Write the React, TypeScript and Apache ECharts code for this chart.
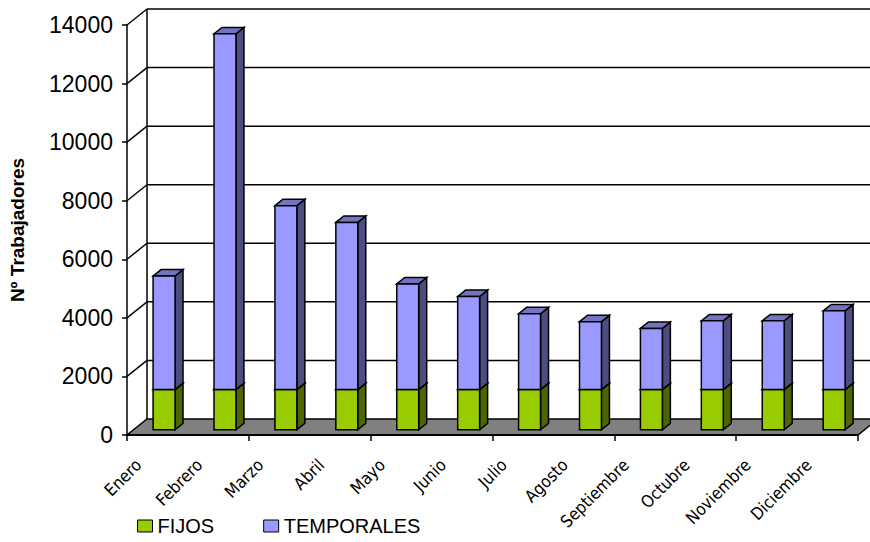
import React, { useEffect, useRef } from "react";
import * as echarts from "echarts";

// Monthly workforce, split into permanent (FIJOS) and temporary (TEMPORALES) staff
const months = [
  "Enero", "Febrero", "Marzo", "Abril", "Mayo", "Junio",
  "Julio", "Agosto", "Septiembre", "Octubre", "Noviembre", "Diciembre",
];
const fijos = [1370, 1370, 1370, 1370, 1370, 1370, 1370, 1370, 1370, 1370, 1370, 1370];
const temporales = [3880, 12150, 6280, 5710, 3610, 3180, 2590, 2320, 2090, 2350, 2350, 2690];
const yTicks = [0, 2000, 4000, 6000, 8000, 10000, 12000, 14000];

const FONT = "'Liberation Sans', Arial, sans-serif";
const NARROW_FONT = "'Liberation Sans Narrow', 'Arial Narrow', 'DejaVu Sans Condensed', 'Liberation Sans', sans-serif";

// Pseudo-3D projection: offset of the back plane relative to the front plane
const DEPTH_X = 20;
const DEPTH_Y = -16;
// Bars sit a little behind the front edge and have their own depth
const BAR_OFFSET = 0.33;
const BAR_DEPTH = 0.4;
const BAR_RATIO = 0.36;
const EDGE = { stroke: "#000", lineWidth: 1.5 };

function barRenderer(front: string, side: string, top: string) {
  return (params: any, api: any) => {
    const idx = api.value(0);
    const pb = api.coord([idx, api.value(1)]);
    const pt = api.coord([idx, api.value(2)]);
    const w = api.size([1, 0])[0] * BAR_RATIO;
    const ox = BAR_OFFSET * DEPTH_X;
    const oy = BAR_OFFSET * DEPTH_Y;
    const xl = pb[0] - w / 2 + ox;
    const xr = xl + w;
    const yb = pb[1] + oy;
    const yt = pt[1] + oy;
    const dx = BAR_DEPTH * DEPTH_X;
    const dy = BAR_DEPTH * DEPTH_Y;
    return {
      type: "group",
      children: [
        {
          type: "polygon",
          shape: { points: [[xr, yt], [xr + dx, yt + dy], [xr + dx, yb + dy], [xr, yb]] },
          style: { fill: side, ...EDGE },
        },
        {
          type: "polygon",
          shape: { points: [[xl, yt], [xl + dx, yt + dy], [xr + dx, yt + dy], [xr, yt]] },
          style: { fill: top, ...EDGE },
        },
        {
          type: "rect",
          shape: { x: xl, y: yt, width: w, height: yb - yt },
          style: { fill: front, ...EDGE },
        },
      ],
    };
  };
}

// Back wall gridlines, side wall diagonals and the grey floor
function wallRenderer(params: any, api: any) {
  const cs = params.coordSys;
  const left = cs.x;
  const right = cs.x + cs.width;
  const bottom = api.coord([0, 0])[1];
  const topY = api.coord([0, yTicks[yTicks.length - 1]])[1];
  const children: any[] = [];
  yTicks.forEach((v) => {
    if (v === 0) return;
    const y = api.coord([0, v])[1];
    children.push({
      type: "line",
      shape: { x1: left + DEPTH_X, y1: y + DEPTH_Y, x2: right + DEPTH_X, y2: y + DEPTH_Y },
      style: { stroke: "#000", lineWidth: 1.5 },
    });
    children.push({
      type: "line",
      shape: { x1: left, y1: y, x2: left + DEPTH_X, y2: y + DEPTH_Y },
      style: { stroke: "#000", lineWidth: 1.5 },
    });
  });
  children.push({
    type: "line",
    shape: { x1: left + DEPTH_X, y1: bottom + DEPTH_Y, x2: left + DEPTH_X, y2: topY + DEPTH_Y },
    style: { stroke: "#000", lineWidth: 1.5 },
  });
  children.push({
    type: "polygon",
    shape: {
      points: [
        [left, bottom],
        [right, bottom],
        [right + DEPTH_X, bottom + DEPTH_Y],
        [left + DEPTH_X, bottom + DEPTH_Y],
      ],
    },
    style: { fill: "#808080", stroke: "#000", lineWidth: 1.5 },
  });
  children.push({
    type: "line",
    shape: { x1: left, y1: bottom, x2: right, y2: bottom },
    style: { stroke: "#000", lineWidth: 2 },
  });
  return { type: "group", children };
}

export default function App() {
  const ref = useRef<HTMLDivElement>(null);

  useEffect(() => {
    if (!ref.current) return;
    const chart = echarts.init(ref.current, null, { renderer: "svg" });

    const fijosData = months.map((_, i) => [i, 0, fijos[i]]);
    const tempData = months.map((_, i) => [i, fijos[i], fijos[i] + temporales[i]]);

    chart.setOption({
      animation: false,
      backgroundColor: "#fff",
      textStyle: { fontFamily: FONT },
      grid: [
        { left: 127, right: 12, top: 25, bottom: 107, outerBoundsMode: "none" },
        { left: 108, right: 31, top: 25, bottom: 107, outerBoundsMode: "none" },
      ],
      legend: {
        data: [
          { name: "FIJOS", icon: "rect", itemStyle: { color: "#99CC00", borderColor: "#000", borderWidth: 1 } },
          { name: "TEMPORALES", icon: "rect", itemStyle: { color: "#9999FF", borderColor: "#000", borderWidth: 1 } },
        ],
        left: 137,
        top: 516,
        padding: 0,
        itemWidth: 15,
        itemHeight: 12,
        itemGap: 49,
        textStyle: { fontSize: 20, color: "#000", fontFamily: FONT },
      },
      xAxis: [
        {
          type: "category",
          gridIndex: 0,
          data: months,
          boundaryGap: true,
          axisLine: { show: false },
          axisTick: { show: true, length: 6, lineStyle: { color: "#000", width: 1.5 } },
          axisLabel: { show: false },
          splitLine: { show: false },
        },
        {
          type: "category",
          gridIndex: 1,
          data: months,
          boundaryGap: true,
          axisLine: { show: false },
          axisTick: { show: false },
          axisLabel: {
            show: true,
            interval: 0,
            rotate: 45,
            margin: 27,
            fontSize: 17,
            color: "#000",
            fontFamily: NARROW_FONT,
          },
          splitLine: { show: false },
        },
      ],
      yAxis: [
        {
          type: "value",
          gridIndex: 0,
          min: 0,
          max: 14000,
          interval: 2000,
          name: "Nº Trabajadores",
          nameLocation: "middle",
          nameGap: 100,
          nameRotate: 90,
          nameTextStyle: {
            fontSize: 19,
            fontWeight: "bold",
            color: "#000",
            fontFamily: FONT,
          },
          axisLine: { show: true, lineStyle: { color: "#000", width: 1.5 } },
          axisTick: { show: true, length: 5, lineStyle: { color: "#000", width: 1.5 } },
          axisLabel: {
            margin: 14,
            fontSize: 23,
            color: "#000",
            fontFamily: FONT,
            formatter: (v: number) => String(v),
          },
          splitLine: { show: false },
        },
        {
          type: "value",
          gridIndex: 1,
          min: 0,
          max: 14000,
          show: false,
        },
      ],
      series: [
        {
          name: "walls",
          type: "custom",
          xAxisIndex: 0,
          yAxisIndex: 0,
          data: [[0, 0]],
          renderItem: wallRenderer,
          silent: true,
          z: 1,
        },
        {
          name: "FIJOS",
          type: "custom",
          xAxisIndex: 0,
          yAxisIndex: 0,
          itemStyle: { color: "#99CC00" },
          encode: { x: 0, y: [1, 2] },
          data: fijosData,
          renderItem: barRenderer("#99CC00", "#4D6600", "#739900"),
          z: 3,
        },
        {
          name: "TEMPORALES",
          type: "custom",
          xAxisIndex: 0,
          yAxisIndex: 0,
          itemStyle: { color: "#9999FF" },
          encode: { x: 0, y: [1, 2] },
          data: tempData,
          renderItem: barRenderer("#9999FF", "#4D4D80", "#7373BF"),
          z: 3,
        },
      ],
    });

    return () => chart.dispose();
  }, []);

  return (
    <div
      ref={ref}
      style={{ position: "fixed", left: 0, top: 0, width: 870, height: 542, background: "#fff" }}
    />
  );
}
